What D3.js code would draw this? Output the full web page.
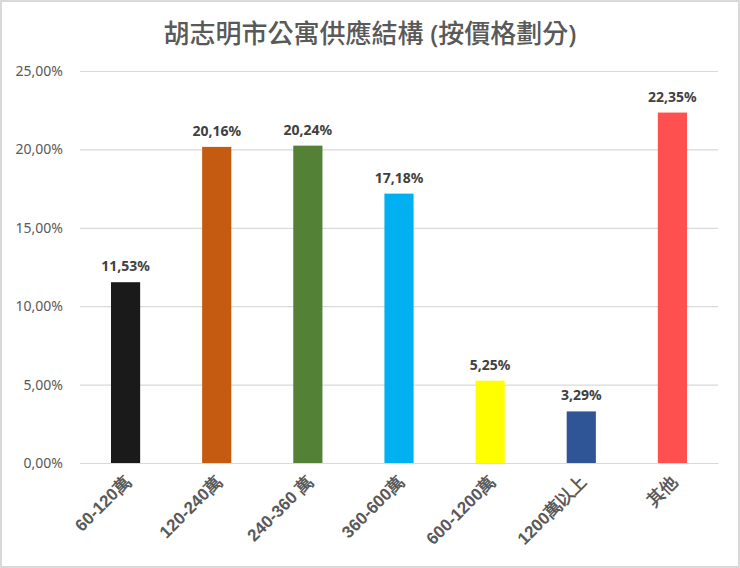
<!DOCTYPE html>
<html>
<head>
<meta charset="utf-8">
<script src="https://cdn.jsdelivr.net/npm/d3@7"></script>
<style>
  body { margin: 0; background: #fff; }
  svg { display: block; font-family: "Noto Sans", "Noto Sans CJK TC", sans-serif; }
</style>
</head>
<body>
<svg id="chart" width="740" height="568"></svg>
<script>
const title = '胡志明市公寓供應結構 (按價格劃分)'
const categories = ['60-120萬', '120-240萬', '240-360 萬', '360-600萬', '600-1200萬', '1200萬以上', '其他']
const values = [11.53, 20.16, 20.24, 17.18, 5.25, 3.29, 22.35]
const colors = ['#1a1a1a', '#c55a11', '#538135', '#00b0f0', '#ffff00', '#2f5597', '#ff5050']
const yTicks = [0, 5, 10, 15, 20, 25]

const fmt = v => v.toFixed(2).replace('.', ',') + '%'

const svg = d3.select('#chart')

// frame
svg.append('rect')
  .attr('x', 1).attr('y', 1)
  .attr('width', 738).attr('height', 566)
  .attr('fill', '#fff')
  .attr('stroke', '#d9d9d9')
  .attr('stroke-width', 2)

svg.append('text')
  .attr('x', 370)
  .attr('y', 43)
  .attr('text-anchor', 'middle')
  .attr('font-size', 26)
  .attr('font-weight', 500)
  .attr('fill', '#595959')
  .text(title)

const plotLeft = 80, plotRight = 718, plotTop = 71, plotBottom = 463

const y = d3.scaleLinear().domain([0, 25]).range([plotBottom, plotTop])
const x = d3.scaleBand()
  .domain(categories)
  .range([plotLeft, plotRight])
  .paddingInner(0.68)
  .paddingOuter(0.34)

// gridlines + y labels
const yAxis = svg.append('g')
  .attr('transform', `translate(${plotLeft},0)`)
  .call(d3.axisLeft(y).tickValues(yTicks).tickFormat(fmt).tickSize(-(plotRight - plotLeft)).tickPadding(17))
yAxis.select('.domain').remove()
yAxis.selectAll('line').attr('stroke', '#d9d9d9').attr('stroke-width', 1.2)
yAxis.selectAll('text')
  .attr('font-size', 14)
  .attr('fill', '#595959')
  .attr('font-family', '"Noto Sans", sans-serif')

// bars
svg.selectAll('rect.bar')
  .data(values)
  .enter()
  .append('rect')
  .attr('class', 'bar')
  .attr('x', (d, i) => x(categories[i]))
  .attr('y', d => y(d))
  .attr('width', x.bandwidth())
  .attr('height', d => plotBottom - y(d))
  .attr('fill', (d, i) => colors[i])

// value labels
svg.selectAll('text.val')
  .data(values)
  .enter()
  .append('text')
  .attr('class', 'val')
  .attr('x', (d, i) => x(categories[i]) + x.bandwidth() / 2)
  .attr('y', d => y(d) - 11)
  .attr('text-anchor', 'middle')
  .attr('font-size', 14)
  .attr('font-weight', 'bold')
  .attr('fill', '#404040')
  .text(fmt)

// x axis
const xAxis = svg.append('g')
  .attr('transform', `translate(0,${plotBottom})`)
  .call(d3.axisBottom(x).tickSize(0).tickPadding(0))
xAxis.select('.domain').attr('stroke', '#d9d9d9').attr('stroke-width', 1.2)
xAxis.selectAll('text')
  .attr('font-size', 17)
  .attr('font-weight', 600)
  .attr('fill', '#595959')
  .attr('text-anchor', 'end')
  .attr('dy', null)
  .attr('y', 0)
  .attr('transform', 'translate(6,20) rotate(-45)')
</script>
</body>
</html>
